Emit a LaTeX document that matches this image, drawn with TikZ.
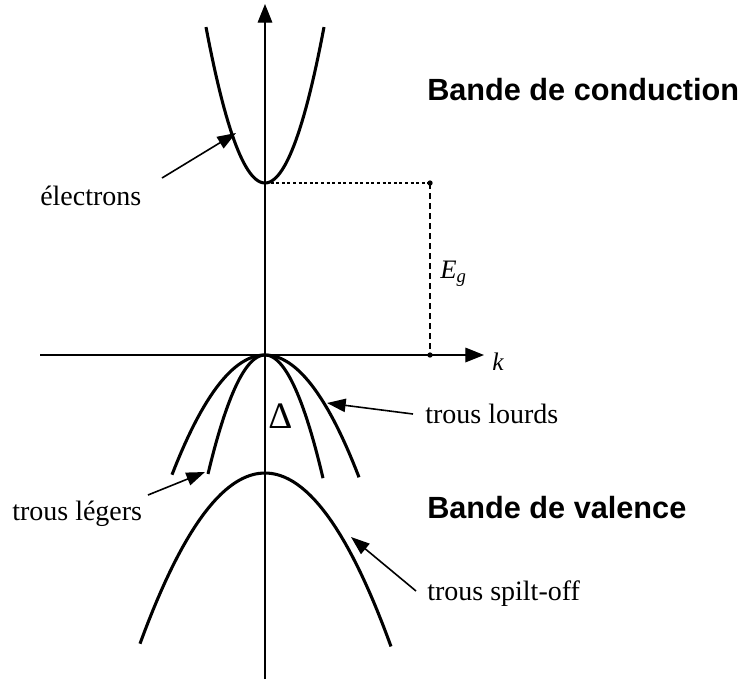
\documentclass[tikz,border=0pt]{standalone}
\usepackage{fontspec}
\setmainfont{Liberation Serif}
\newfontfamily\bandfont{Liberation Sans}
\usetikzlibrary{arrows.meta}

\begin{document}
\begin{tikzpicture}[
  x=0.75pt, y=-0.75pt,
  axis/.style={line width=0.9pt, -{Triangle[length=14pt,width=11pt]}},
  band/.style={line width=2.3pt},
  ptr/.style={line width=1.2pt, -{Triangle[length=14pt,width=10pt]}},
  gapline/.style={line width=0.9pt},
  lbl/.style={font=\fontsize{21}{24}\selectfont, inner sep=0pt, anchor=base west},
  bandlbl/.style={font=\bandfont\bfseries\fontsize{23}{26}\selectfont, inner sep=0pt, anchor=base west},
]
\useasboundingbox (0,0) rectangle (743,679);

%% --- Axes ------------------------------------------------------------
\coordinate (ybot) at (265,679);
\coordinate (ytop) at (265,4);
\coordinate (xleft) at (40,355);
\coordinate (xright) at (484,355);
\draw[axis] (ybot) -- (ytop);
\draw[axis] (xleft) -- (xright);
\node[lbl, font=\fontsize{19}{22}\selectfont] (k) at (492,370) {\textit{k}};

%% --- Bands -----------------------------------------------------------
\coordinate (cbmin) at (265,183);
\coordinate (vbtop) at (265,355);
\coordinate (sotop) at (265,473);

% conduction band
\draw[band] plot[domain=-59:59, samples=60] ({265+\x},{183-0.0448*\x*\x});
% heavy holes
\draw[band] plot[domain=-93:94, samples=60] ({265+\x},{355+0.01384*\x*\x});
% light holes
\draw[band] plot[domain=-57:58, samples=60] ({265+\x},{355+0.0366*\x*\x});
% split-off
\draw[band] plot[domain=-125:126, samples=60] ({265+\x},{473+0.01092*\x*\x});

%% --- Gap and split-off energy --------------------------------------
\coordinate (egtop) at (430,183);
\coordinate (egbot) at (430,355);
\draw[gapline, dash pattern=on 2.2pt off 2pt] (cbmin) -- (egtop);
\draw[gapline, dash pattern=on 4.5pt off 3pt] (egtop) -- (egbot);
\fill (egtop) circle (2pt);
\fill (egbot) circle (2pt);
\node[lbl, font=\fontsize{20}{22}\selectfont] (eg) at (440,278) {\textit{E}\textsubscript{\textit{g}}};

\draw[line width=1.9pt, dash pattern=on 6pt off 2.5pt] (vbtop) -- (sotop);
\node[lbl, font=\fontsize{28}{30}\selectfont] (delta) at (268,428) {Δ};

%% --- Labels ----------------------------------------------------------
\node[bandlbl] (cb) at (427,100) {Bande de conduction};
\node[bandlbl] (vb) at (427,518) {Bande de valence};

\node[lbl] (elec) at (40,205) {électrons};
\node[lbl] (hh) at (425,423) {trous lourds};
\node[lbl] (lh) at (12,520) {trous légers};
\node[lbl] (so) at (427,600) {trous spilt-off};

%% --- Pointers --------------------------------------------------------
\coordinate (elecfrom) at (162,178);
\coordinate (electip)  at (236,133);
\coordinate (hhfrom)   at (413,414);
\coordinate (hhtip)    at (327,403);
\coordinate (lhfrom)   at (148,495);
\coordinate (lhtip)    at (205,472);
\coordinate (sofrom)   at (416,591);
\coordinate (sotip)    at (351,537);

\draw[ptr] (elecfrom) -- (electip);
\draw[ptr] (hhfrom) -- (hhtip);
\draw[ptr] (lhfrom) -- (lhtip);
\draw[ptr] (sofrom) -- (sotip);

\end{tikzpicture}
\end{document}
